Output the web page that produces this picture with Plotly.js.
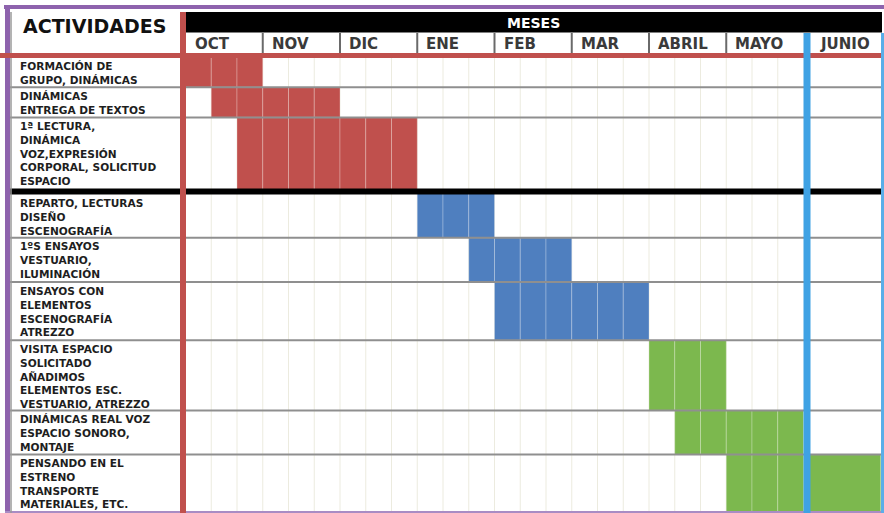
<!DOCTYPE html>
<html>
<head>
<meta charset="utf-8">
<script src="https://cdn.plot.ly/plotly-3.0.1.min.js"></script>
<style>html,body{margin:0;padding:0;background:#fff;}#chart{width:884px;height:513px;}</style>
</head>
<body>
<div id="chart"></div>
<script>
// ---------- DATA ----------
const months = ['OCT','NOV','DIC','ENE','FEB','MAR','ABRIL','MAYO','JUNIO'];
const weeksPerMonth = [3,3,3,3,3,3,3,3,1];
const activities = [
  'FORMACIÓN DE<br>GRUPO, DINÁMICAS',
  'DINÁMICAS<br>ENTREGA DE TEXTOS',
  '1ª LECTURA,<br>DINÁMICA<br>VOZ,EXPRESIÓN<br>CORPORAL, SOLICITUD<br>ESPACIO',
  'REPARTO, LECTURAS<br>DISEÑO<br>ESCENOGRAFÍA',
  '1ºS ENSAYOS<br>VESTUARIO,<br>ILUMINACIÓN',
  'ENSAYOS CON<br>ELEMENTOS<br>ESCENOGRAFÍA<br>ATREZZO',
  'VISITA ESPACIO<br>SOLICITADO<br>AÑADIMOS<br>ELEMENTOS ESC.<br>VESTUARIO, ATREZZO',
  'DINÁMICAS REAL VOZ<br>ESPACIO SONORO,<br>MONTAJE',
  'PENSANDO EN EL<br>ESTRENO<br>TRANSPORTE<br>MATERIALES, ETC.'
];
const startWeek = [0,1,2,9,11,12,18,19,21];
const endWeek   = [2,5,8,11,14,17,20,23,24];
const phase     = [0,0,0,1,1,1,2,2,2];
const headerTitle = 'ACTIVIDADES';
const headerMonths = 'MESES';

// ---------- LAYOUT / STYLE ----------
const W = 884, H = 513;
const colPx = 25.75, gridLeftPx = 185.5, rowsTopPx = 57;
const fx = px => (px - gridLeftPx) / colPx;
const fy = py => py - rowsTopPx;
const phaseColors = ['#c0504d', '#4f7fbf', '#7cb84e'];
const unitsPerMonth = 3;
const rowAdjust = [0, 0, 2, 2, 0, 0, -2, 0, 0];

// week cells -> x position / width
const cellX = [], cellW = [];
const monthStart = [];
weeksPerMonth.forEach((n, m) => {
  monthStart.push(m * unitsPerMonth);
  for (let k = 0; k < n; k++) {
    cellX.push(m * unitsPerMonth + k * unitsPerMonth / n);
    cellW.push(unitsPerMonth / n);
  }
});

// rows heights from label line counts
const rowLines = activities.map(a => a.split('<br>').length);
const rowTop = [], rowH = [];
let yAcc = 0;
rowLines.forEach((l, i) => {
  rowTop.push(yAcc);
  const h = l * 14 + 2.2 + rowAdjust[i];
  rowH.push(h); yAcc += h;
});
const rowsBottom = yAcc;

// bars: one trace per phase, one bar per cell
const traces = [0,1,2].map(p => {
  const xs = [], bs = [], ys = [], ws = [];
  activities.forEach((a, i) => {
    if (phase[i] !== p) return;
    for (let w = startWeek[i]; w <= endWeek[i]; w++) {
      xs.push(cellW[w]); bs.push(cellX[w]);
      ys.push(rowTop[i] + rowH[i] / 2); ws.push(rowH[i]);
    }
  });
  return {
    type: 'bar', orientation: 'h', x: xs, base: bs, y: ys, width: ws,
    marker: { color: phaseColors[p], line: { color: 'rgba(255,255,255,0.25)', width: 1 } },
    hoverinfo: 'skip', showlegend: false
  };
});

const shapes = [];
const L = (x0, y0, x1, y1, color, width, layer) =>
  shapes.push({ type: 'line', xref: 'x', yref: 'y', x0, y0, x1, y1, line: { color, width }, layer: layer || 'above' });

// light week verticals
for (let w = 1; w < 24; w++) L(w, 0, w, rowsBottom, '#ecebdf', 1, 'below');
// header black band
shapes.push({ type: 'rect', xref: 'x', yref: 'y', x0: fx(186), x1: fx(882), y0: fy(12), y1: fy(32.5),
  fillcolor: '#000', line: { width: 0 }, layer: 'above' });
// month separators in month row
for (let m = 1; m < 8; m++) L(monthStart[m], fy(33), monthStart[m], fy(53), '#6a6a6a', 2);
// row separators
for (let i = 1; i < rowTop.length; i++) {
  if (i === 3) continue;
  L(fx(10), rowTop[i], fx(884), rowTop[i], '#8f8f8f', 2);
}
// thick black separator
L(fx(10), rowTop[3], fx(884), rowTop[3], '#000', 6);
// purple frame
L(fx(4), fy(7), fx(884), fy(7), '#8e63ad', 4);
L(fx(7.5), fy(5), fx(7.5), fy(513), '#8e63ad', 5);
L(fx(5), fy(512), fx(884), fy(512), '#a98cc4', 2);
L(fx(11), fy(12), fx(11), fy(513), '#9a9a9a', 1.5);
// red lines
L(fx(0), fy(55.5), fx(884), fy(55.5), '#c0504d', 5);
L(fx(183), fy(12), fx(183), fy(513), '#c0504d', 6);
// blue lines
L(24 + 3.5 / colPx, fy(33), 24 + 3.5 / colPx, fy(513), '#3fa2e4', 7);
L(fx(882.5), fy(33), fx(882.5), fy(513), '#5aaee8', 3);

const annotations = [];
activities.forEach((a, i) => annotations.push({
  xref: 'x', yref: 'y', x: fx(18), y: rowTop[i] + 0.6 + (i === 3 ? 2.5 : 0), xanchor: 'left', yanchor: 'top',
  align: 'left', showarrow: false, text: a,
  font: { family: 'DejaVu Sans', size: 10.6, weight: 700, color: '#1e1e1e' }
}));
annotations.push({ xref: 'x', yref: 'y', x: fx(94), y: fy(26), xanchor: 'center', yanchor: 'middle',
  showarrow: false, text: headerTitle, font: { family: 'DejaVu Sans', size: 19, weight: 700, color: '#111' } });
annotations.push({ xref: 'x', yref: 'y', x: fx(533), y: fy(22.5), xanchor: 'center', yanchor: 'middle',
  showarrow: false, text: headerMonths, font: { family: 'DejaVu Sans', size: 14, weight: 700, color: '#fff' } });
months.forEach((m, i) => annotations.push({
  xref: 'x', yref: 'y', x: monthStart[i] + 0.28 + (i === 8 ? 0.27 : 0), y: fy(43.5),
  xanchor: 'left', yanchor: 'middle', showarrow: false, text: m,
  font: { family: 'DejaVu Sans', size: 15, weight: 700, color: '#3a3a3a' }
}));

const layout = {
  width: W, height: H, margin: { l: 0, r: 0, t: 0, b: 0, pad: 0 },
  paper_bgcolor: '#fff', plot_bgcolor: '#fff', barmode: 'overlay', showlegend: false,
  xaxis: { range: [fx(0), fx(W)], showgrid: false, zeroline: false, showticklabels: false, ticks: '', fixedrange: true },
  yaxis: { range: [fy(H), fy(0)], showgrid: false, zeroline: false, showticklabels: false, ticks: '', fixedrange: true },
  shapes, annotations
};
Plotly.newPlot('chart', traces, layout, { staticPlot: true, displayModeBar: false });
</script>
</body>
</html>
